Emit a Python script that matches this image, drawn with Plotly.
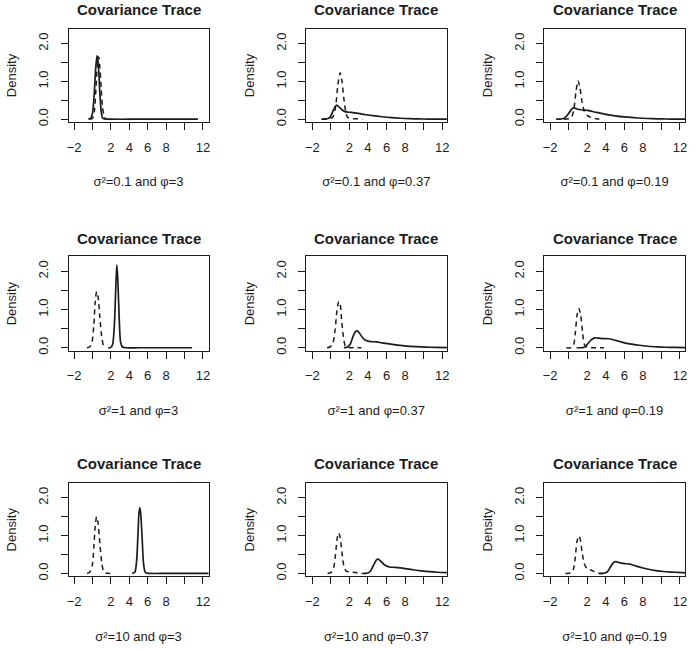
import plotly.graph_objects as go

# ---------------- data ----------------
panel_labels = [
    "σ²=0.1 and φ=3", "σ²=0.1 and φ=0.37", "σ²=0.1 and φ=0.19",
    "σ²=1 and φ=3", "σ²=1 and φ=0.37", "σ²=1 and φ=0.19",
    "σ²=10 and φ=3", "σ²=10 and φ=0.37", "σ²=10 and φ=0.19",
]
panel_title = "Covariance Trace"
y_title = "Density"
x_tick_vals = [-2, 2, 4, 6, 8, 12]
x_tick_text = ["−2", "2", "4", "6", "8", "12"]
x_minor_vals = [0, 10]
y_tick_vals = [0, 1.0, 2.0]
y_tick_text = ["0.0", "1.0", "2.0"]
y_minor_vals = [0.5, 1.5]

# panel 1: sigma2=0.1, phi=3
solid_x_1 = [-0.45, -0.2, 0.0, 0.2, 0.35, 0.5, 0.65, 0.8, 0.95, 1.1, 1.3, 2, 4, 6, 8, 10, 11.45]
solid_y_1 = [0, 0.02, 0.15, 0.7, 1.35, 1.68, 1.4, 0.7, 0.2, 0.03, 0.005, 0, 0, 0, 0, 0, 0]
dash_x_1 = [-0.3, 0.0, 0.2, 0.4, 0.55, 0.68, 0.8, 0.95, 1.1, 1.3, 1.45]
dash_y_1 = [0, 0.02, 0.2, 0.9, 1.5, 1.65, 1.4, 0.8, 0.3, 0.05, 0]

# panel 2: sigma2=0.1, phi=0.37
solid_x_2 = [-1.0, -0.5, -0.1, 0.2, 0.45, 0.65, 0.9, 1.2, 1.5, 1.8, 2.2, 2.8, 3.5, 4.5, 5.5, 6.5, 7.5, 8.5, 9.5, 10.5, 11.5, 12.6]
solid_y_2 = [0, 0.005, 0.05, 0.2, 0.33, 0.37, 0.32, 0.25, 0.2, 0.19, 0.18, 0.16, 0.13, 0.095, 0.065, 0.04, 0.025, 0.015, 0.008, 0.004, 0.002, 0.001]
dash_x_2 = [-1.0, -0.3, 0.2, 0.5, 0.75, 1.0, 1.2, 1.4, 1.6, 1.8, 2.2, 2.8, 3.4]
dash_y_2 = [0, 0.01, 0.05, 0.3, 0.9, 1.23, 1.0, 0.55, 0.2, 0.05, 0.02, 0.01, 0]

# panel 3: sigma2=0.1, phi=0.19
solid_x_3 = [-1.35, -0.8, -0.4, 0.0, 0.3, 0.55, 0.9, 1.3, 1.8, 2.3, 3.0, 4.0, 5.0, 6.0, 7.0, 8.0, 9.0, 10.0, 11.0, 12.6]
solid_y_3 = [0, 0.005, 0.04, 0.15, 0.26, 0.30, 0.27, 0.25, 0.24, 0.22, 0.18, 0.13, 0.09, 0.06, 0.04, 0.025, 0.015, 0.008, 0.004, 0.001]
dash_x_3 = [-0.5, 0.0, 0.3, 0.55, 0.8, 1.0, 1.2, 1.45, 1.7, 2.0, 2.4, 2.8, 3.3]
dash_y_3 = [0, 0.01, 0.05, 0.25, 0.75, 1.02, 0.85, 0.45, 0.2, 0.1, 0.05, 0.02, 0]

# panel 4: sigma2=1, phi=3
solid_x_4 = [1.7, 2.0, 2.2, 2.4, 2.55, 2.65, 2.75, 2.9, 3.05, 3.25, 3.6, 5, 7, 9, 10.8]
solid_y_4 = [0, 0.01, 0.1, 0.7, 1.7, 2.17, 1.8, 0.8, 0.15, 0.02, 0, 0, 0, 0, 0]
dash_x_4 = [-0.6, -0.3, -0.05, 0.15, 0.3, 0.45, 0.6, 0.8, 1.0, 1.2, 1.4]
dash_y_4 = [0, 0.02, 0.15, 0.6, 1.2, 1.47, 1.35, 0.8, 0.3, 0.05, 0]

# panel 5: sigma2=1, phi=0.37
solid_x_5 = [1.4, 1.8, 2.1, 2.4, 2.65, 2.85, 3.1, 3.4, 3.8, 4.3, 4.9, 5.5, 6.3, 7.2, 8.2, 9.2, 10.2, 11.2, 12.6]
solid_y_5 = [0, 0.02, 0.1, 0.3, 0.42, 0.44, 0.38, 0.27, 0.19, 0.16, 0.155, 0.13, 0.1, 0.07, 0.045, 0.03, 0.018, 0.01, 0.005]
dash_x_5 = [-0.4, -0.1, 0.2, 0.45, 0.65, 0.85, 1.0, 1.15, 1.35, 1.55, 1.8, 2.2, 2.7, 3.3]
dash_y_5 = [0, 0.02, 0.1, 0.45, 0.95, 1.21, 1.15, 0.75, 0.3, 0.05, 0.01, 0.0, 0.01, 0]

# panel 6: sigma2=1, phi=0.19
solid_x_6 = [0.85, 1.5, 1.8, 2.1, 2.4, 2.8, 3.3, 3.8, 4.3, 4.8, 5.4, 6.0, 6.8, 7.6, 8.5, 9.5, 10.5, 11.5, 12.6]
solid_y_6 = [0, 0.005, 0.03, 0.12, 0.2, 0.26, 0.25, 0.24, 0.235, 0.21, 0.17, 0.13, 0.095, 0.065, 0.04, 0.025, 0.014, 0.008, 0.004]
dash_x_6 = [-0.25, 0.2, 0.5, 0.7, 0.9, 1.1, 1.3, 1.5, 1.7, 2.0, 2.5, 3.0, 3.5, 3.8]
dash_y_6 = [0, 0.0, 0.05, 0.35, 0.85, 1.03, 0.85, 0.4, 0.08, 0.01, 0.0, 0.0, 0.0, 0]

# panel 7: sigma2=10, phi=3
solid_x_7 = [4.3, 4.6, 4.8, 4.95, 5.05, 5.15, 5.25, 5.4, 5.55, 5.75, 6.2, 8, 10, 13]
solid_y_7 = [0, 0.03, 0.35, 1.1, 1.6, 1.74, 1.55, 0.9, 0.25, 0.02, 0, 0, 0, 0]
dash_x_7 = [-0.6, -0.3, 0.0, 0.15, 0.3, 0.45, 0.6, 0.8, 1.0, 1.2, 1.45, 1.8, 2.4]
dash_y_7 = [0, 0.03, 0.25, 0.7, 1.25, 1.5, 1.35, 0.8, 0.3, 0.06, 0.01, 0.0, 0]

# panel 8: sigma2=10, phi=0.37
solid_x_8 = [3.6, 4.0, 4.3, 4.6, 4.9, 5.1, 5.4, 5.8, 6.3, 6.9, 7.5, 8.2, 9.0, 9.8, 10.6, 11.5, 12.6]
solid_y_8 = [0, 0.01, 0.07, 0.22, 0.35, 0.38, 0.32, 0.22, 0.17, 0.16, 0.145, 0.12, 0.09, 0.065, 0.045, 0.03, 0.02]
dash_x_8 = [-0.35, 0.0, 0.3, 0.5, 0.7, 0.85, 1.0, 1.2, 1.4, 1.65, 2.0, 2.4, 2.9, 3.4, 4.0]
dash_y_8 = [0, 0.02, 0.15, 0.5, 0.95, 1.07, 0.95, 0.55, 0.2, 0.06, 0.04, 0.03, 0.01, 0.0, 0]

# panel 9: sigma2=10, phi=0.19
solid_x_9 = [3.3, 3.8, 4.2, 4.5, 4.8, 5.1, 5.5, 6.0, 6.6, 7.2, 7.9, 8.6, 9.4, 10.2, 11.0, 11.8, 12.7]
solid_y_9 = [0, 0.005, 0.05, 0.17, 0.28, 0.31, 0.28, 0.26, 0.245, 0.2, 0.15, 0.11, 0.075, 0.05, 0.035, 0.025, 0.015]
dash_x_9 = [-0.35, 0.2, 0.5, 0.7, 0.9, 1.1, 1.25, 1.45, 1.7, 2.0, 2.4, 2.8, 3.3, 3.9]
dash_y_9 = [0, 0.01, 0.1, 0.4, 0.85, 0.99, 0.9, 0.55, 0.25, 0.12, 0.09, 0.04, 0.0, 0]

solid_x = [solid_x_1, solid_x_2, solid_x_3, solid_x_4, solid_x_5, solid_x_6, solid_x_7, solid_x_8, solid_x_9]
solid_y = [solid_y_1, solid_y_2, solid_y_3, solid_y_4, solid_y_5, solid_y_6, solid_y_7, solid_y_8, solid_y_9]
dash_x = [dash_x_1, dash_x_2, dash_x_3, dash_x_4, dash_x_5, dash_x_6, dash_x_7, dash_x_8, dash_x_9]
dash_y = [dash_y_1, dash_y_2, dash_y_3, dash_y_4, dash_y_5, dash_y_6, dash_y_7, dash_y_8, dash_y_9]

# ---------------- layout geometry (pixels) ----------------
W, H = 698, 649
col_px = [(67, 208), (306, 448), (546, 688)]
row_px = [(29, 123), (258, 353), (486, 580)]
col_xrange = [[-2.6, 12.6], [-2.7, 12.5], [-2.65, 12.55]]
y_range = [-0.08, 2.39]
title_y_px = [9.5, 240, 466]

FONT = "Liberation Sans, Arial, Helvetica, sans-serif"
INK = "#1c1c1c"

fig = go.Figure()
layout = dict(
    width=W, height=H, margin=dict(l=0, r=0, t=0, b=0),
    paper_bgcolor="white", plot_bgcolor="white", showlegend=False,
    font=dict(family=FONT, size=13, color=INK),
)
annotations = []

for i in range(9):
    r, c = divmod(i, 3)
    k = "" if i == 0 else str(i + 1)
    xa, ya = "x" + k, "y" + k
    x0, x1 = col_px[c]
    y0, y1 = row_px[r]
    layout["xaxis" + k] = dict(
        domain=[x0 / W, x1 / W], anchor=ya, range=col_xrange[c],
        tickmode="array", tickvals=x_tick_vals, ticktext=x_tick_text,
        ticks="outside", ticklen=7, tickwidth=1, tickcolor=INK,
        minor=dict(tickmode="array", tickvals=x_minor_vals, ticks="outside",
                   ticklen=7, tickwidth=1, tickcolor=INK, showgrid=False),
        showline=True, mirror=True, linecolor=INK,
        linewidth=1, showgrid=False, zeroline=False, tickfont=dict(size=13),
        ticklabelstandoff=6,
        title=dict(text=panel_labels[i], standoff=23, font=dict(size=13, family=FONT, color=INK)),
    )
    layout["yaxis" + k] = dict(
        domain=[1 - y1 / H, 1 - y0 / H], anchor=xa, range=y_range,
        tickmode="array", tickvals=y_tick_vals, ticktext=y_tick_text,
        ticks="outside", ticklen=7, tickwidth=1, tickcolor=INK,
        minor=dict(tickmode="array", tickvals=y_minor_vals, ticks="outside",
                   ticklen=7, tickwidth=1, tickcolor=INK, showgrid=False),
        showline=True, mirror=True, linecolor=INK,
        linewidth=1, showgrid=False, zeroline=False, tickfont=dict(size=13),
        tickangle=-90, ticklabelstandoff=7,
        title=dict(text=y_title, standoff=16, font=dict(size=13, family=FONT, color=INK)),
    )
    fig.add_trace(go.Scatter(
        x=solid_x[i], y=solid_y[i], mode="lines", xaxis=xa, yaxis=ya,
        line=dict(color=INK, width=1.7, shape="spline", smoothing=0.7),
        hoverinfo="skip", cliponaxis=True,
    ))
    fig.add_trace(go.Scatter(
        x=dash_x[i], y=dash_y[i], mode="lines", xaxis=xa, yaxis=ya,
        line=dict(color=INK, width=1.5, dash="5px,4px", shape="spline", smoothing=0.7),
        hoverinfo="skip", cliponaxis=True,
    ))
    cx = (x0 + x1) / 2
    annotations.append(dict(
        text=panel_title, xref="paper", yref="paper",
        x=cx / W, y=1 - title_y_px[r] / H, xanchor="center", yanchor="middle",
        showarrow=False, font=dict(size=15, family=FONT, color=INK, weight="bold"),
    ))

layout["annotations"] = annotations
fig.update_layout(**layout)
fig.write_html(
    "out.html",
    config={"displayModeBar": False, "staticPlot": True},
    post_script="document.body.style.margin='0';document.body.style.overflow='hidden';",
)
